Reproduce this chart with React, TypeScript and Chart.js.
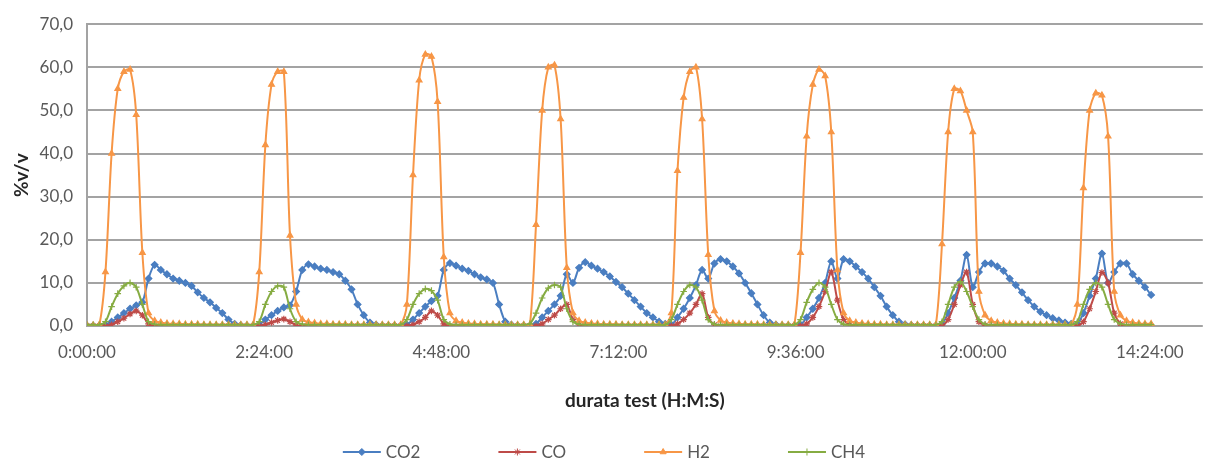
import React, { useEffect, useRef } from 'react';
import { Chart, registerables } from 'chart.js';
import { drawPoint } from 'chart.js/helpers';

Chart.register(...registerables);

// Sampling interval of the gas analyser readings (minutes)
const SAMPLE_MINUTES = 5;

const seriesNames = ['CO2', 'CO', 'H2', 'CH4'];

const co2 = [
  0.1, 0.1, 0.1, 0.3, 1, 2, 3, 4, 4.8, 5.5,
  11, 14.2, 13, 12, 11, 10.5, 10, 9.3, 7.8, 6.5,
  5.5, 4.2, 3, 1.5, 0.5, 0.2, 0.1, 0.1, 0.3, 1.5,
  2.5, 3.5, 4.3, 4.8, 8, 13, 14.3, 13.8, 13.3, 13,
  12.5, 12, 10.5, 8.5, 5, 2.5, 0.8, 0.3, 0.1, 0.1,
  0.1, 0.1, 0.3, 1.5, 3, 4.5, 5.8, 7, 13, 14.6,
  14, 13.3, 12.8, 12, 11.3, 10.8, 10, 5, 1, 0.3,
  0.1, 0.1, 0.1, 0.5, 2, 3.5, 5, 7, 12, 10,
  13.5, 14.8, 14, 13.3, 12.5, 11.5, 10.2, 9, 7.5, 6,
  4.5, 3, 2, 1, 0.5, 0.3, 2, 4, 6.5, 9.5,
  13, 11, 14.5, 15.5, 15, 13.8, 12.2, 10, 7.6, 5,
  2.5, 0.8, 0.3, 0.1, 0.1, 0.1, 0.3, 2, 4, 6.5,
  10, 15, 11, 15.5, 15, 13.8, 12.5, 11, 9, 7,
  4.5, 2.5, 1, 0.4, 0.2, 0.1, 0.1, 0.1, 0.1, 0.5,
  3, 6.5, 10.5, 16.5, 9, 12.5, 14.5, 14.5, 13.8, 12.8,
  11, 9.5, 7.8, 6, 4.5, 3.3, 2.5, 1.8, 1.3, 0.8,
  0.5, 0.5, 3, 7, 11, 16.8, 10, 12.5, 14.5, 14.5,
  12, 10.5, 9, 7.2,
];

const co = [
  0, 0, 0, 0, 0.3, 1, 1.8, 2.8, 3.5, 2.5,
  0.5, 0, 0, 0, 0, 0, 0, 0, 0, 0,
  0, 0, 0, 0, 0, 0, 0, 0, 0, 0.3,
  0.8, 1.3, 1.6, 1, 0.2, 0, 0, 0, 0, 0,
  0, 0, 0, 0, 0, 0, 0, 0, 0, 0,
  0, 0, 0, 0.3, 1, 2, 3.5, 2.5, 0.5, 0,
  0, 0, 0, 0, 0, 0, 0, 0, 0, 0,
  0, 0, 0, 0, 0.5, 1.5, 2.5, 4, 5, 1.5,
  0.3, 0, 0, 0, 0, 0, 0, 0, 0, 0,
  0, 0, 0, 0, 0, 0, 0.5, 1.5, 3, 5,
  7.5, 2, 0.3, 0, 0, 0, 0, 0, 0, 0,
  0, 0, 0, 0, 0, 0, 0, 0.5, 2, 4.5,
  8, 12.5, 6, 1.5, 0.3, 0, 0, 0, 0, 0,
  0, 0, 0, 0, 0, 0, 0, 0, 0, 0,
  1.5, 5, 9.5, 12.5, 5, 1, 0.2, 0, 0, 0,
  0, 0, 0, 0, 0, 0, 0, 0, 0, 0,
  0, 0, 1, 4, 8, 12.4, 10, 3, 0.5, 0,
  0, 0, 0, 0,
];

const h2 = [
  0.2, 0.2, 0.3, 12.5, 40, 55, 59, 59.5, 49, 17,
  3, 1.2, 0.8, 0.6, 0.5, 0.5, 0.4, 0.4, 0.4, 0.3,
  0.3, 0.3, 0.3, 0.3, 0.3, 0.3, 0.3, 0.3, 12.5, 42,
  56, 59, 59, 21, 5, 1.5, 0.9, 0.7, 0.5, 0.5,
  0.4, 0.4, 0.4, 0.3, 0.3, 0.3, 0.3, 0.3, 0.3, 0.3,
  0.3, 0.3, 5, 35, 57, 63, 62.5, 52, 16, 3,
  1.2, 0.8, 0.6, 0.5, 0.4, 0.4, 0.4, 0.3, 0.3, 0.3,
  0.3, 0.3, 0.3, 23.5, 50, 60, 60.5, 48, 13.5, 3,
  1.2, 0.8, 0.6, 0.5, 0.4, 0.4, 0.4, 0.3, 0.3, 0.3,
  0.3, 0.3, 0.3, 0.3, 0.3, 3, 36, 53, 59, 60,
  48, 16.5, 3.5, 1.3, 0.8, 0.6, 0.5, 0.4, 0.4, 0.4,
  0.3, 0.3, 0.3, 0.3, 0.3, 0.3, 17, 44, 56, 59.5,
  58, 45, 13, 3, 1.2, 0.8, 0.6, 0.5, 0.4, 0.4,
  0.3, 0.3, 0.3, 0.3, 0.3, 0.3, 0.3, 0.3, 0.3, 19,
  45, 55, 54.5, 50, 45, 8, 2.5, 1.2, 0.8, 0.6,
  0.5, 0.4, 0.4, 0.3, 0.3, 0.3, 0.3, 0.3, 0.3, 0.3,
  0.3, 5, 32, 50, 54, 53.5, 44, 8, 2.5, 1.2,
  0.8, 0.6, 0.5, 0.5,
];

const ch4 = [
  0.3, 0.3, 0.3, 1, 4.5, 7.5, 9.3, 10, 9, 5,
  1, 0.4, 0.3, 0.3, 0.3, 0.3, 0.3, 0.3, 0.3, 0.3,
  0.3, 0.3, 0.3, 0.3, 0.3, 0.3, 0.3, 0.3, 1, 5,
  8, 9.3, 9, 4, 1, 0.4, 0.3, 0.3, 0.3, 0.3,
  0.3, 0.3, 0.3, 0.3, 0.3, 0.3, 0.3, 0.3, 0.3, 0.3,
  0.3, 0.3, 1.5, 5, 7.5, 8.6, 8.2, 6, 1.5, 0.4,
  0.3, 0.3, 0.3, 0.3, 0.3, 0.3, 0.3, 0.3, 0.3, 0.3,
  0.3, 0.3, 0.5, 3, 6.5, 8.8, 9.5, 9, 4, 1,
  0.4, 0.3, 0.3, 0.3, 0.3, 0.3, 0.3, 0.3, 0.3, 0.3,
  0.3, 0.3, 0.3, 0.3, 0.3, 1.5, 5, 8, 9.5, 9,
  6, 1.5, 0.4, 0.3, 0.3, 0.3, 0.3, 0.3, 0.3, 0.3,
  0.3, 0.3, 0.3, 0.3, 0.3, 0.3, 1.5, 5.5, 8.5, 10,
  9, 5, 1.5, 0.4, 0.3, 0.3, 0.3, 0.3, 0.3, 0.3,
  0.3, 0.3, 0.3, 0.3, 0.3, 0.3, 0.3, 0.3, 0.3, 1,
  5, 9, 10.3, 8, 4.5, 1.5, 0.4, 0.3, 0.3, 0.3,
  0.3, 0.3, 0.3, 0.3, 0.3, 0.3, 0.3, 0.3, 0.3, 0.3,
  0.3, 1, 5, 8.5, 10, 9, 5, 1.5, 0.5, 0.3,
  0.3, 0.3, 0.3, 0.3,
];

// x-axis tick positions in minutes (0:00:00 ... 14:24:00)
const xTickMinutes = [0, 144, 288, 432, 576, 720, 864];
const X_MAX_MINUTES = 907;
const Y_MIN = 0;
const Y_MAX = 70;
const Y_STEP = 10;

const X_TITLE = 'durata test (H:M:S)';
const Y_TITLE = '%v/v';

const COLORS = ['#4A7EC1', '#BE4B48', '#F79646', '#86AC42'];
const MARKERS = ['rectRot', 'star', 'triangle', 'cross'];
const FONT = 'Lato, "Open Sans", sans-serif';
const TEXT_COLOR = '#595959';
const TITLE_COLOR = '#262626';
const GRID_COLOR = '#A3A3A3';

const minutes = co2.map((_, i) => i * SAMPLE_MINUTES);

function fmtTime(m: number): string {
  const h = Math.floor(m / 60);
  const mm = Math.round(m % 60);
  return `${h}:${String(mm).padStart(2, '0')}:00`;
}

function fmtPct(v: number): string {
  return v.toFixed(1).replace('.', ',');
}

const excelLegend = {
  id: 'excelLegend',
  afterDraw(chart: any) {
    const ctx = chart.ctx as CanvasRenderingContext2D;
    const y = 452;
    const symbolW = 38;
    const gapText = 5;
    const gapItem = 78;
    ctx.save();
    ctx.font = `17px ${FONT}`;
    const widths = seriesNames.map((n) => ctx.measureText(n).width);
    const total =
      widths.reduce((a, w) => a + symbolW + gapText + w, 0) + gapItem * (seriesNames.length - 1);
    let x = chart.width / 2 - total / 2;
    seriesNames.forEach((name, i) => {
      ctx.strokeStyle = COLORS[i];
      ctx.fillStyle = COLORS[i];
      ctx.lineWidth = 2;
      ctx.beginPath();
      ctx.moveTo(x, y);
      ctx.lineTo(x + symbolW, y);
      ctx.stroke();
      ctx.lineWidth = 1;
      drawPoint(ctx, { pointStyle: MARKERS[i], radius: 3.5, rotation: 0, borderWidth: 1 } as any, x + symbolW / 2, y);
      ctx.fillStyle = TEXT_COLOR;
      ctx.textAlign = 'left';
      ctx.textBaseline = 'middle';
      ctx.fillText(name, x + symbolW + gapText, y + 1);
      x += symbolW + gapText + widths[i] + gapItem;
    });
    ctx.restore();
  },
};

export default function App() {
  const canvasRef = useRef<HTMLCanvasElement | null>(null);

  useEffect(() => {
    const canvas = canvasRef.current;
    if (!canvas) return;
    const seriesValues = [co2, co, h2, ch4];
    const chart = new Chart(canvas, {
      type: 'line',
      data: {
        labels: minutes,
        datasets: seriesNames.map((name, i) => ({
          label: name,
          data: seriesValues[i],
          borderColor: COLORS[i],
          backgroundColor: COLORS[i],
          pointBackgroundColor: COLORS[i],
          pointBorderColor: COLORS[i],
          pointStyle: MARKERS[i] as any,
          pointRadius: 3.3,
          pointBorderWidth: 1.2,
          borderWidth: 2,
          tension: 0.3,
          fill: false,
          order: seriesNames.length - i,
        })),
      },
      options: {
        animation: false,
        responsive: false,
        maintainAspectRatio: false,
        layout: { padding: { left: 0, right: 3, top: 22, bottom: 60 } },
        plugins: {
          legend: { display: false },
          tooltip: { enabled: false },
        },
        scales: {
          x: {
            type: 'linear',
            min: 0,
            max: X_MAX_MINUTES,
            grid: { display: false, drawTicks: false },
            border: { display: false },
            afterBuildTicks: (scale: any) => {
              scale.ticks = xTickMinutes.map((v) => ({ value: v }));
            },
            afterFit: (scale: any) => {
              scale.height = 86;
            },
            ticks: {
              autoSkip: false,
              maxRotation: 0,
              padding: 16,
              color: TEXT_COLOR,
              font: { family: FONT, size: 17 },
              callback: (v: any) => fmtTime(Number(v)),
            },
            title: {
              display: true,
              text: X_TITLE,
              color: TITLE_COLOR,
              font: { family: FONT, size: 19, weight: 'bold' },
              padding: { top: 0, bottom: 0 },
            },
          },
          y: {
            min: Y_MIN,
            max: Y_MAX,
            grid: { color: GRID_COLOR, lineWidth: 2, drawTicks: false },
            border: { display: true, color: GRID_COLOR, width: 2 },
            afterFit: (scale: any) => {
              scale.width = 87;
            },
            ticks: {
              stepSize: Y_STEP,
              padding: 14,
              color: TEXT_COLOR,
              font: { family: FONT, size: 17 },
              callback: (v: any) => fmtPct(Number(v)),
            },
            title: {
              display: true,
              text: Y_TITLE,
              color: TITLE_COLOR,
              font: { family: FONT, size: 19, weight: 'bold' },
              padding: { top: 10, bottom: 0 },
            },
          },
        },
      },
      plugins: [excelLegend],
    });
    return () => chart.destroy();
  }, []);

  return (
    <div style={{ position: 'fixed', left: 0, top: 0, width: 1208, height: 472, background: '#fff' }}>
      <canvas ref={canvasRef} width={1208} height={472} style={{ width: 1208, height: 472, display: 'block' }} />
    </div>
  );
}
